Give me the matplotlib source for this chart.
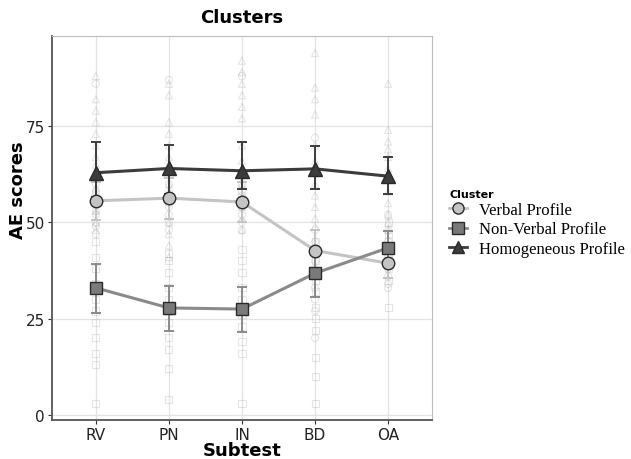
import numpy as np
import matplotlib.pyplot as plt
from matplotlib.lines import Line2D

subtests = ['RV', 'PN', 'IN', 'BD', 'OA']
clusters = ['Verbal Profile', 'Non-Verbal Profile', 'Homogeneous Profile']

# medie per cluster
verbal_mean = [55.6, 56.3, 55.3, 42.7, 39.4]
nonverbal_mean = [33.0, 27.8, 27.5, 36.8, 43.4]
homog_mean = [62.9, 64.0, 63.4, 63.9, 62.0]

# intervalli (basso, alto)
verbal_lo = [50.5, 51.0, 50.0, 37.5, 35.5]
verbal_hi = [60.5, 61.5, 60.5, 48.0, 43.5]
nonverbal_lo = [26.6, 21.9, 21.5, 30.6, 39.0]
nonverbal_hi = [39.2, 33.6, 33.2, 43.0, 47.8]
homog_lo = [56.5, 57.5, 58.6, 58.6, 57.4]
homog_hi = [70.8, 70.0, 70.8, 69.9, 67.0]

# punteggi individuali (sfondo)
verbal_pts = [
    [86, 62, 60, 58, 57, 53, 52, 50, 49, 47],
    [87, 60, 58, 55, 54, 52, 50, 48],
    [88, 63, 60, 58, 57, 54, 52, 50, 48],
    [72, 48, 45, 43, 40, 38, 33, 30, 27, 20],
    [52, 48, 45, 43, 41, 40, 38, 36, 34, 33],
]
nonverbal_pts = [
    [45, 41, 38, 34, 30, 27, 24, 20, 16, 13, 3],
    [42, 40, 37, 33, 30, 27, 24, 20, 17, 12, 4],
    [43, 40, 37, 33, 30, 26, 23, 19, 16, 3],
    [45, 40, 35, 32, 28, 25, 22, 15, 10, 3],
    [50, 47, 45, 42, 40, 38, 35, 28],
]
homog_pts = [
    [88, 82, 79, 76, 73, 70, 67, 65, 59, 56, 53, 50, 48],
    [86, 83, 76, 73, 70, 67, 65, 60, 58, 50, 47, 44, 41],
    [92, 89, 86, 83, 80, 77, 70, 66, 60, 57, 54, 51, 48],
    [94, 85, 82, 78, 70, 66, 63, 60, 57, 54, 51, 49],
    [86, 74, 71, 69, 67, 64, 61, 58, 55, 52, 50, 48],
]

x = np.arange(1, len(subtests) + 1)
styles = [
    ('o', '#c4c4c4', '#c4c4c4', verbal_mean, verbal_lo, verbal_hi, verbal_pts),
    ('s', '#8a8a8a', '#7a7a7a', nonverbal_mean, nonverbal_lo, nonverbal_hi, nonverbal_pts),
    ('^', '#3c3c3c', '#3c3c3c', homog_mean, homog_lo, homog_hi, homog_pts),
]

fig = plt.figure(figsize=(6.31, 4.60), dpi=100)
ax = fig.add_axes([0.0824, 0.0848, 0.6022, 0.8348])

for mk, lc, fc, mean, lo, hi, pts in styles:
    for i, vals in enumerate(pts):
        ax.scatter([x[i]] * len(vals), vals, marker=mk, s=26, facecolors='none',
                   edgecolors='#aaaaaa', linewidths=0.8, alpha=0.3, zorder=2)

for mk, lc, fc, mean, lo, hi, pts in styles:
    mean = np.array(mean)
    yerr = [mean - np.array(lo), np.array(hi) - mean]
    ax.errorbar(x, mean, yerr=yerr, fmt='none', ecolor=lc, elinewidth=1.4,
                capsize=3.5, capthick=1.4, zorder=3)
    ax.plot(x, mean, color=lc, lw=2.2, zorder=4)
    ax.plot(x, mean, ls='none', marker=mk, ms=10 if mk == '^' else 9,
            mfc=fc, mec='#2a2a2a', mew=1.0, zorder=5)

ax.set_xlim(0.4, 5.6)
ax.set_ylim(-1.3, 98.4)
ax.set_xticks(x)
ax.set_xticklabels(subtests)
ax.set_yticks([0, 25, 50, 75])
ax.grid(True, color='#e3e3e3', lw=0.9)
ax.set_axisbelow(True)
for s in ax.spines.values():
    s.set_color('#bdbdbd')
ax.spines['left'].set_color('#555555')
ax.spines['bottom'].set_color('#555555')
ax.spines['left'].set_linewidth(1.3)
ax.spines['bottom'].set_linewidth(1.3)
ax.tick_params(labelsize=11, colors='#333333', length=3, pad=2)
for t in ax.get_xticklabels() + ax.get_yticklabels():
    t.set_color('#222222')
fig.text(242 / 631, 1 - 451 / 460, 'Subtest', fontsize=13, fontweight='bold',
         ha='center', va='center')
fig.text(18 / 631, 1 - 190 / 460, 'AE scores', fontsize=13, fontweight='bold',
         ha='center', va='center', rotation=90)
fig.text(242 / 631, 1 - 18 / 460, 'Clusters', fontsize=13, fontweight='bold',
         ha='center', va='center')

handles = []
for mk, lc, fc, mean, lo, hi, pts in styles:
    handles.append(Line2D([0], [0], color=lc, lw=2, marker=mk, ms=8,
                          mfc=fc, mec='#2a2a2a', mew=1.0))
leg = fig.legend(handles, clusters, loc='upper left', bbox_to_anchor=(0.688, 0.62),
                 frameon=False, title='Cluster', handlelength=1.1, handletextpad=0.7,
                 labelspacing=0.2, prop={'family': 'Liberation Serif', 'size': 12})
leg.get_title().set_fontsize(8)
leg.get_title().set_fontweight('bold')
leg._legend_box.align = 'left'

fig.savefig('out.png', dpi=100)
